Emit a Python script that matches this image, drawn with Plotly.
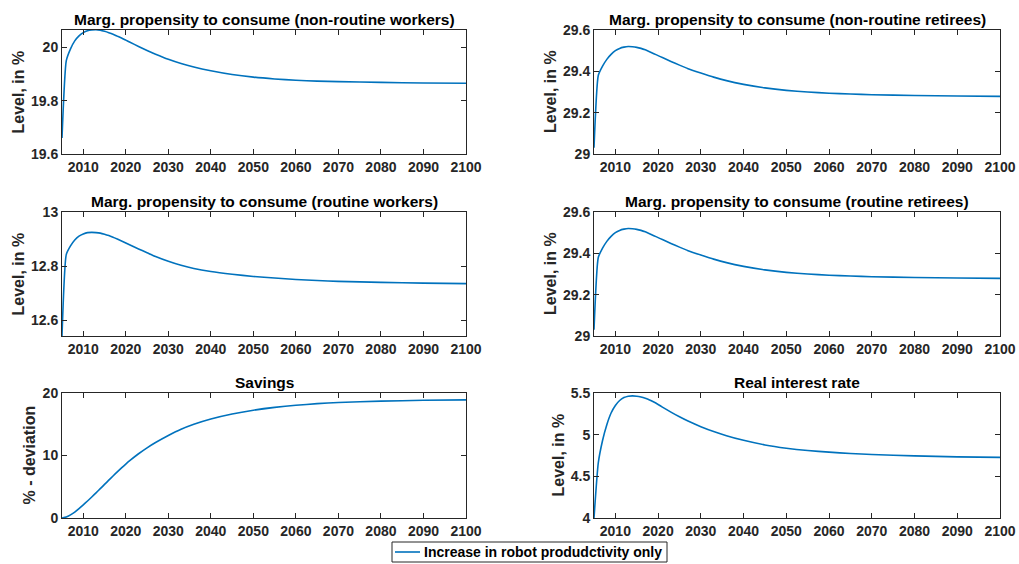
import plotly.graph_objects as go

years = [2005, 2006, 2007, 2008, 2009, 2010, 2011, 2012, 2013, 2014, 2015, 2016, 2017, 2018,
         2019, 2020, 2021, 2023, 2025, 2027, 2030, 2033, 2036, 2040, 2045, 2050, 2055, 2060,
         2065, 2070, 2080, 2090, 2100]

mpc_nonroutine_workers = [19.66, 19.95, 19.995, 20.025, 20.044, 20.056, 20.063, 20.066, 20.067,
                          20.065, 20.061, 20.056, 20.05, 20.043, 20.036, 20.028, 20.02, 20.004,
                          19.989, 19.975, 19.956, 19.94, 19.927, 19.913, 19.899, 19.889, 19.882,
                          19.877, 19.874, 19.872, 19.869, 19.867, 19.866]
mpc_nonroutine_retirees = [29.03, 29.38, 29.425, 29.458, 29.482, 29.5, 29.511, 29.517, 29.52,
                           29.519, 29.516, 29.511, 29.504, 29.495, 29.4855, 29.476, 29.4665,
                           29.448, 29.43, 29.413, 29.392, 29.372, 29.355, 29.337, 29.32, 29.308,
                           29.3, 29.294, 29.29, 29.287, 29.283, 29.281, 29.279]
mpc_routine_workers = [12.543, 12.843, 12.875, 12.897, 12.911, 12.919, 12.924, 12.925, 12.924,
                       12.922, 12.918, 12.913, 12.907, 12.9005, 12.8935, 12.886, 12.8785, 12.864,
                       12.85, 12.836, 12.8185, 12.8035, 12.7915, 12.7805, 12.7705, 12.7625,
                       12.7565, 12.7515, 12.7475, 12.7445, 12.7405, 12.738, 12.736]
mpc_routine_retirees = [29.03, 29.38, 29.425, 29.458, 29.482, 29.5, 29.511, 29.517, 29.52,
                        29.519, 29.516, 29.511, 29.504, 29.495, 29.4855, 29.476, 29.4665,
                        29.448, 29.43, 29.413, 29.392, 29.372, 29.355, 29.337, 29.32, 29.308,
                        29.3, 29.294, 29.29, 29.287, 29.283, 29.281, 29.279]
savings = [0.0, 0.15, 0.5, 0.95, 1.5, 2.1, 2.72, 3.36, 4.02, 4.69, 5.37, 6.05, 6.72, 7.38, 8.02,
           8.63, 9.21, 10.28, 11.23, 12.07, 13.2, 14.2, 15.0, 15.85, 16.65, 17.25, 17.7, 18.03,
           18.3, 18.48, 18.7, 18.83, 18.9]
real_rate = [4.0, 4.66, 4.93, 5.12, 5.26, 5.35, 5.41, 5.445, 5.462, 5.466, 5.462, 5.452, 5.437,
             5.417, 5.391, 5.362, 5.331, 5.27, 5.214, 5.163, 5.096, 5.038, 4.988, 4.932, 4.877,
             4.838, 4.81, 4.79, 4.774, 4.762, 4.745, 4.734, 4.727]

titles = ["Marg. propensity to consume (non-routine workers)",
          "Marg. propensity to consume (non-routine retirees)",
          "Marg. propensity to consume (routine workers)",
          "Marg. propensity to consume (routine retirees)",
          "Savings",
          "Real interest rate"]
ylabels = ["Level, in %", "Level, in %", "Level, in %", "Level, in %", "% - deviation", "Level, in %"]
series = [mpc_nonroutine_workers, mpc_nonroutine_retirees, mpc_routine_workers,
          mpc_routine_retirees, savings, real_rate]
y_ranges = [[19.6, 20.066], [29.0, 29.6], [12.543, 13.0], [29.0, 29.6], [0, 20], [4.0, 5.5]]
y_ticks = [[19.6, 19.8, 20.0], [29.0, 29.2, 29.4, 29.6], [12.6, 12.8, 13.0],
           [29.0, 29.2, 29.4, 29.6], [0, 10, 20], [4.0, 4.5, 5.0, 5.5]]
y_ticktext = [["19.6", "19.8", "20"], ["29", "29.2", "29.4", "29.6"], ["12.6", "12.8", "13"],
              ["29", "29.2", "29.4", "29.6"], ["0", "10", "20"], ["4", "4.5", "5", "5.5"]]
x_ticks = [2010, 2020, 2030, 2040, 2050, 2060, 2070, 2080, 2090, 2100]
legend_label = "Increase in robot produdctivity only"

W, H = 1019, 564
col_px = [(62, 466), (594, 1000)]
row_px = [(30, 154), (212, 336), (393, 518)]
ylabel_x_px = [17.5, 550, 17.5, 550, 29, 558]
legend_box_px = (392, 542, 667, 562)


def px(x):
    return x / W


def py(y):
    return 1 - y / H


AX = "#262626"
LINE = "#0072BD"
FONT = "Liberation Sans"

fig = go.Figure()
annotations = []
shapes = []
for i in range(6):
    r, c = divmod(i, 2)
    x0, x1 = col_px[c]
    y0, y1 = row_px[r]
    xa = "xaxis" if i == 0 else f"xaxis{i+1}"
    ya = "yaxis" if i == 0 else f"yaxis{i+1}"
    xr = "x" if i == 0 else f"x{i+1}"
    yr = "y" if i == 0 else f"y{i+1}"
    fig.add_trace(go.Scatter(x=years, y=series[i], mode="lines", xaxis=xr, yaxis=yr,
                             line=dict(color=LINE, width=1.6, shape="spline", smoothing=0.5),
                             name=legend_label, showlegend=False, hoverinfo="skip"))
    common = dict(showline=True, linecolor=AX, linewidth=1, mirror="ticks", ticks="inside",
                  ticklen=5, tickcolor=AX, tickwidth=1, showgrid=False, zeroline=False,
                  automargin=False,
                  tickfont=dict(family=FONT, size=14, color=AX, weight="bold"))
    fig.update_layout({
        xa: dict(domain=[px(x0), px(x1)], range=[2005, 2100], anchor=yr,
                 tickvals=x_ticks, ticktext=[str(t) for t in x_ticks], **common),
        ya: dict(domain=[py(y1), py(y0)], range=y_ranges[i], anchor=xr,
                 tickvals=y_ticks[i], ticktext=y_ticktext[i], **common),
    })
    annotations.append(dict(text=titles[i], xref="paper", yref="paper",
                            x=px((x0 + x1) / 2), y=py(y0), xanchor="center", yanchor="bottom",
                            yshift=0, showarrow=False,
                            font=dict(family=FONT, size=15.5, color="black", weight="bold")))
    annotations.append(dict(text=ylabels[i], xref="paper", yref="paper",
                            x=px(ylabel_x_px[i]), y=py((y0 + y1) / 2),
                            xanchor="center", yanchor="middle", textangle=-90, showarrow=False,
                            font=dict(family=FONT, size=16, color=AX, weight="bold")))

# legend (drawn by hand to match the compact boxed legend)
lx0, ly0, lx1, ly1 = legend_box_px
ymid = (ly0 + ly1) / 2
shapes.append(dict(type="rect", xref="paper", yref="paper",
                   x0=px(lx0), x1=px(lx1), y0=py(ly1), y1=py(ly0),
                   line=dict(color=AX, width=1), fillcolor="white"))
shapes.append(dict(type="line", xref="paper", yref="paper",
                   x0=px(lx0 + 3), x1=px(lx0 + 28), y0=py(ymid), y1=py(ymid),
                   line=dict(color=LINE, width=1.6)))
annotations.append(dict(text=legend_label, xref="paper", yref="paper",
                        x=px(lx0 + 30), y=py(ymid), xanchor="left",
                        yanchor="middle", showarrow=False,
                        font=dict(family=FONT, size=14, color="black", weight="bold")))

fig.update_layout(
    width=W, height=H, margin=dict(l=0, r=0, t=0, b=0, autoexpand=False),
    paper_bgcolor="white", plot_bgcolor="white",
    annotations=annotations, shapes=shapes,
    showlegend=False, hovermode=False,
)

fig.write_html("out.html", config={"displayModeBar": False},
               post_script="document.body.style.margin='0px';"
                           "document.body.style.overflow='hidden';")
